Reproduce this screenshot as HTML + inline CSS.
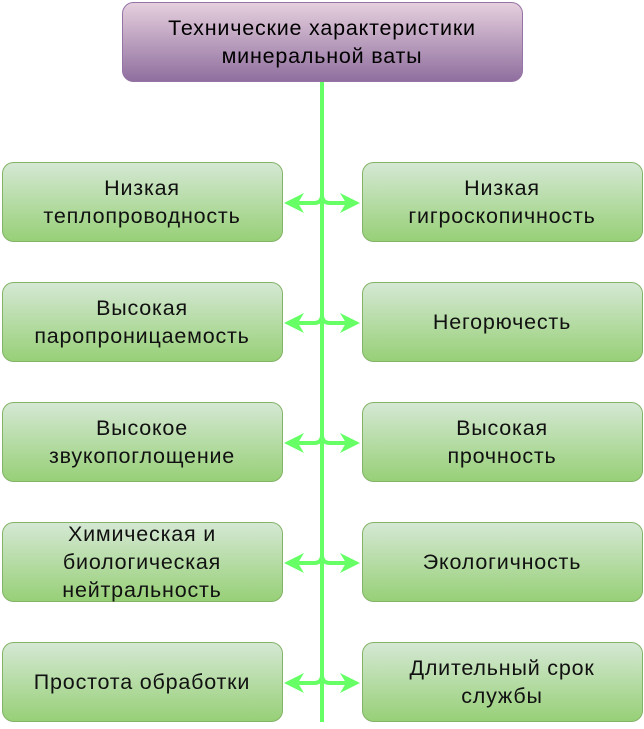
<!DOCTYPE html>
<html><head><meta charset="utf-8"><style>body{margin:0;background:#fff}</style></head><body>
<svg width="644" height="724" xmlns="http://www.w3.org/2000/svg" font-family="Liberation Sans, sans-serif" font-size="21.5" letter-spacing="0.8">
<defs>
<linearGradient id="g" x1="0" y1="0" x2="0" y2="1"><stop offset="0" stop-color="#d5e8d4"/><stop offset="1" stop-color="#97d077"/></linearGradient>
<linearGradient id="p" x1="0" y1="0" x2="0" y2="1"><stop offset="0" stop-color="#e6d0de"/><stop offset="1" stop-color="#8f6e9e"/></linearGradient>
</defs>
<rect x="122.5" y="2.5" width="400" height="79" rx="11" fill="url(#p)" stroke="#9673a6"/>
<text x="322" y="35" text-anchor="middle">Технические характеристики</text>
<text x="322" y="63" text-anchor="middle">минеральной ваты</text>
<g stroke="#66ff66" stroke-width="4" fill="none">
<line x1="322" y1="82" x2="322" y2="722"/>
</g>
<g fill="url(#g)" stroke="#82b366">
<rect x="2.5" y="162.5" width="280" height="79" rx="11"/><rect x="362.5" y="162.5" width="280" height="79" rx="11"/>
<rect x="2.5" y="282.5" width="280" height="79" rx="11"/><rect x="362.5" y="282.5" width="280" height="79" rx="11"/>
<rect x="2.5" y="402.5" width="280" height="79" rx="11"/><rect x="362.5" y="402.5" width="280" height="79" rx="11"/>
<rect x="2.5" y="522.5" width="280" height="79" rx="11"/><rect x="362.5" y="522.5" width="280" height="79" rx="11"/>
<rect x="2.5" y="642.5" width="280" height="79" rx="11"/><rect x="362.5" y="642.5" width="280" height="79" rx="11"/>
</g>
<g stroke="#66ff66" stroke-width="4" fill="none">
<path d="M322 195 Q322 203 314 203 L296 203 M322 195 Q322 203 330 203 L348 203"/>
<path d="M322 315 Q322 323 314 323 L296 323 M322 315 Q322 323 330 323 L348 323"/>
<path d="M322 435 Q322 443 314 443 L296 443 M322 435 Q322 443 330 443 L348 443"/>
<path d="M322 555 Q322 563 314 563 L296 563 M322 555 Q322 563 330 563 L348 563"/>
<path d="M322 675 Q322 683 314 683 L296 683 M322 675 Q322 683 330 683 L348 683"/>
</g>
<g fill="#66ff66">
<path d="M284 203 L304 193 L298 203 L304 213Z M360 203 L340 193 L346 203 L340 213Z"/>
<path d="M284 323 L304 313 L298 323 L304 333Z M360 323 L340 313 L346 323 L340 333Z"/>
<path d="M284 443 L304 433 L298 443 L304 453Z M360 443 L340 433 L346 443 L340 453Z"/>
<path d="M284 563 L304 553 L298 563 L304 573Z M360 563 L340 553 L346 563 L340 573Z"/>
<path d="M284 683 L304 673 L298 683 L304 693Z M360 683 L340 673 L346 683 L340 693Z"/>
</g>
<g text-anchor="middle" fill="#111">
<text x="142" y="195">Низкая</text><text x="142" y="223">теплопроводность</text>
<text x="502" y="195">Низкая</text><text x="502" y="223">гигроскопичность</text>
<text x="142" y="315">Высокая</text><text x="142" y="343">паропроницаемость</text>
<text x="502" y="329">Негорючесть</text>
<text x="142" y="435">Высокое</text><text x="142" y="463">звукопоглощение</text>
<text x="502" y="435">Высокая</text><text x="502" y="463">прочность</text>
<text x="142" y="541">Химическая и</text><text x="142" y="569">биологическая</text><text x="142" y="597">нейтральность</text>
<text x="502" y="569">Экологичность</text>
<text x="142" y="689">Простота обработки</text>
<text x="502" y="675">Длительный срок</text><text x="502" y="703">службы</text>
</g>
</svg>
</body></html>
